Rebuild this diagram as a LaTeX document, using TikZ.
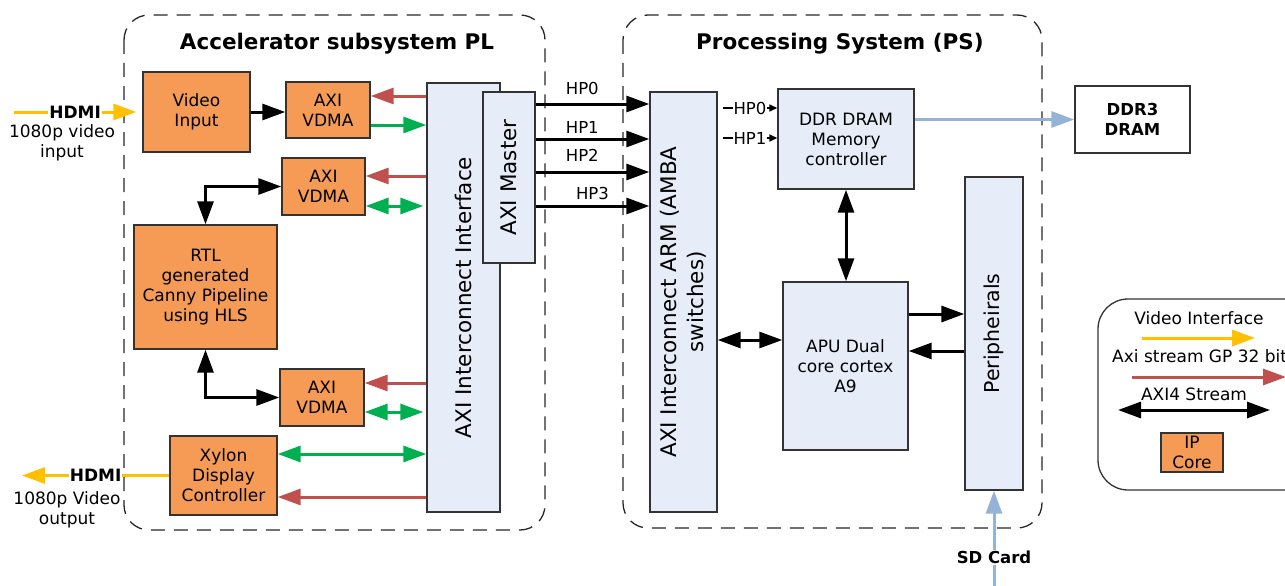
\documentclass[tikz,border=0pt]{standalone}
\usepackage{fontspec}
\setmainfont{DejaVu Sans}
\usetikzlibrary{arrows.meta,positioning}
\definecolor{ipfill}{RGB}{245,155,85}
\definecolor{psfill}{RGB}{230,236,248}
\definecolor{gpred}{RGB}{192,80,77}
\definecolor{streamgreen}{RGB}{0,176,80}
\definecolor{videoyellow}{RGB}{255,192,0}
\definecolor{ddrblue}{RGB}{149,179,215}
\tikzset{
  blkbox/.style={draw=black!80, line width=1.4pt, align=center, inner sep=0pt,
    font=\fontsize{17}{20}\selectfont},
  ipbox/.style={blkbox, fill=ipfill},
  psbox/.style={blkbox, fill=psfill},
  region/.style={draw=black!85, line width=1.3pt, dash pattern=on 14pt off 9pt,
    rounded corners=25pt},
  ttl/.style={font=\fontsize{21.5}{26}\selectfont\bfseries},
  vert/.style={rotate=90, align=center, font=\fontsize{21.5}{27}\selectfont},
  txt/.style={align=center, inner sep=0pt, font=\fontsize{17}{20}\selectfont},
  bold/.style={inner sep=1pt, font=\fontsize{17}{20}\selectfont\bfseries},
  hplabel/.style={inner sep=0pt, font=\fontsize{16.5}{20}\selectfont},
  bigtip/.tip={Triangle[length=23pt,width=16pt]},
  smalltip/.tip={Triangle[length=8pt,width=7pt]},
  axi/.style={draw=black, line width=3pt, -bigtip},
  axiboth/.style={draw=black, line width=3pt, bigtip-bigtip},
  gp/.style={draw=gpred, line width=3pt, -bigtip},
  stream/.style={draw=streamgreen, line width=3pt, -bigtip},
  streamboth/.style={draw=streamgreen, line width=3pt, bigtip-bigtip},
  video/.style={draw=videoyellow, line width=3pt, -bigtip},
  mem/.style={draw=ddrblue, line width=3pt, -bigtip},
  port/.style={draw=black, line width=1.6pt, -smalltip}
}
\begin{document}
\begin{tikzpicture}[x=1pt,y=-1pt]
\useasboundingbox (0,0) rectangle (1285,586);
\draw[region] (124,15) rectangle (545,530);
\draw[region] (623,15) rectangle (1042,528);
\node[ttl] (pltitle) at (337,44) {Accelerator subsystem PL};
\node[ttl] (pstitle) at (840,44) {Processing System (PS)};

\node[ipbox, minimum width=107pt, minimum height=80pt] (vin) at (196.5,112) {Video\\Input};
\node[ipbox, minimum width=84pt, minimum height=56pt] (vdmaa) at (328,110) {AXI\\VDMA};
\node[ipbox, minimum width=83pt, minimum height=57pt] (vdmab) at (323.5,186.5) {AXI\\VDMA};
\node[ipbox, minimum width=143pt, minimum height=124pt] (rtl) at (205.5,287) {RTL\\generated\\Canny Pipeline\\using HLS};
\node[ipbox, minimum width=84pt, minimum height=57pt] (vdmac) at (322,397.5) {AXI\\VDMA};
\node[ipbox, minimum width=107pt, minimum height=79pt] (xylon) at (223.5,475.5) {Xylon\\Display\\Controller};
\node[psbox, minimum width=73pt, minimum height=429pt] (axii) at (463.5,297.5) {};
\node[vert] (axiitext) at (axii.center) {AXI Interconnect Interface};
\node[psbox, minimum width=52pt, minimum height=171pt] (axim) at (509,177.5) {};
\node[vert] (axomtext) at (axim.center) {AXI Master};

\node[psbox, minimum width=67pt, minimum height=420pt] (arm) at (683.5,302) {};
\node[vert] (armtext) at (arm.center) {AXI Interconnect ARM (AMBA\\switches)};
\node[psbox, minimum width=136pt, minimum height=100pt] (ddr) at (846,139) {DDR DRAM\\Memory\\controller};
\node[psbox, minimum width=125pt, minimum height=168pt] (apu) at (845.5,366) {APU Dual\\core cortex\\A9};
\node[psbox, minimum width=58pt, minimum height=313pt] (peri) at (994,333.5) {};
\node[vert, font=\fontsize{20.5}{24}\selectfont] (peritext) at (peri.center) {Peripheirals};
\node[blkbox, fill=white, minimum width=115pt, minimum height=67pt, font=\fontsize{16.5}{20}\selectfont\bfseries] (dram) at (1132.5,119.5) {DDR3\\DRAM};

\coordinate (hdmiin) at (14,112);
\coordinate (hdmiout) at (22,475.5);
\coordinate (sdin) at (994,586);
\draw[video] (hdmiin) -- node[bold, fill=white, pos=0.5] (hdmiintext) {HDMI} ([xshift=-6pt]vin.west);
\node[txt] (hdmiinsub) at (62,143) {1080p video\\input};
\draw[video] (xylon.west) -- node[bold, fill=white, pos=0.5] (hdmiouttext) {HDMI} (hdmiout);
\node[txt] (hdmioutsub) at (67,510) {1080p Video\\output};

\draw[axi] (vin.east) -- (vin.east -| vdmaa.west);
\draw[gp] ([yshift=14pt]vdmaa.east -| axii.west) -- ([yshift=14pt]vdmaa.east);
\draw[stream] ([yshift=-15pt]vdmaa.east) -- ([yshift=-15pt]vdmaa.east -| axii.west);
\draw[gp] ([yshift=10.5pt]vdmab.east -| axii.west) -- ([yshift=10.5pt]vdmab.east);
\draw[streamboth] ([yshift=-19.5pt]vdmab.east) -- ([yshift=-19.5pt,xshift=-3pt]vdmab.east -| axii.west);
\draw[gp] ([yshift=14.5pt]vdmac.east -| axii.west) -- ([yshift=14.5pt]vdmac.east);
\draw[streamboth] ([yshift=-14.5pt]vdmac.east) -- ([yshift=-14.5pt,xshift=-3pt]vdmac.east -| axii.west);
\draw[streamboth] ([yshift=21.5pt]xylon.east) -- ([yshift=21.5pt]xylon.east -| axii.west);
\draw[gp] ([yshift=-21.5pt]xylon.east -| axii.west) -- ([yshift=-21.5pt]xylon.east);
\draw[axiboth] (rtl.north) |- (vdmab.west);
\draw[axiboth] (rtl.south) |- (vdmac.west);

\draw[axi] ([yshift=73.5pt]axim.east) -- node[hplabel, above=8pt, pos=0.41] (hpa) {HP0} ([yshift=73.5pt]axim.east -| arm.west);
\draw[axi] ([yshift=38.5pt]axim.east) -- node[hplabel, above=4pt, pos=0.41] (hpb) {HP1} ([yshift=38.5pt]axim.east -| arm.west);
\draw[axi] ([yshift=5.5pt]axim.east) -- node[hplabel, above=9pt, pos=0.41] (hpc) {HP2} ([yshift=5.5pt]axim.east -| arm.west);
\draw[axi] ([yshift=-28.5pt]axim.east) -- node[hplabel, above=5pt, pos=0.5] (hpd) {HP3} ([yshift=-28.5pt]axim.east -| arm.west);

\draw[port] ([yshift=31pt,xshift=5pt]ddr.west -| arm.east) -- node[hplabel, fill=white, inner sep=1pt] (ddrpa) {HP0} ([yshift=31pt]ddr.west);
\draw[port] ([yshift=1pt,xshift=5pt]ddr.west -| arm.east) -- node[hplabel, fill=white, inner sep=1pt] (ddrpb) {HP1} ([yshift=1pt]ddr.west);
\draw[mem] (dram.west -| ddr.east) -- (dram.west);
\draw[axiboth] (ddr.south) -- (ddr.south |- apu.north);
\draw[axiboth] ([yshift=26pt]apu.west -| arm.east) -- ([yshift=26pt]apu.west);
\draw[axi] ([yshift=52pt]apu.east) -- ([yshift=52pt]apu.east -| peri.west);
\draw[axi] ([yshift=15pt]apu.east -| peri.west) -- ([yshift=15pt]apu.east);
\draw[mem] (sdin) -- node[bold, fill=white, pos=0.3, font=\fontsize{16.5}{20}\selectfont\bfseries] (sdtext) {SD Card} (peri.south);

\draw[draw=black!80, line width=1.3pt, rounded corners=30pt] (1098,299) rectangle (1320,490);
\coordinate (videoa) at (1142,338);
\coordinate (videob) at (1255,338);
\coordinate (gpa) at (1132,377);
\coordinate (gpb) at (1286,377);
\coordinate (streama) at (1118,410);
\coordinate (streamb) at (1270,410);
\node[txt] (videokey) at (1199,318) {Video Interface};
\draw[video] (videoa) -- (videob);
\node[txt, anchor=west] (gpkey) at (1112,356) {Axi stream GP 32 bit};
\draw[gp] (gpa) -- (gpb);
\node[txt] (streamkey) at (1194,394) {AXI4 Stream};
\draw[axiboth] (streama) -- (streamb);
\node[ipbox, minimum width=62pt, minimum height=39pt] (ipcore) at (1192,452.5) {IP\\Core};
\end{tikzpicture}
\end{document}
